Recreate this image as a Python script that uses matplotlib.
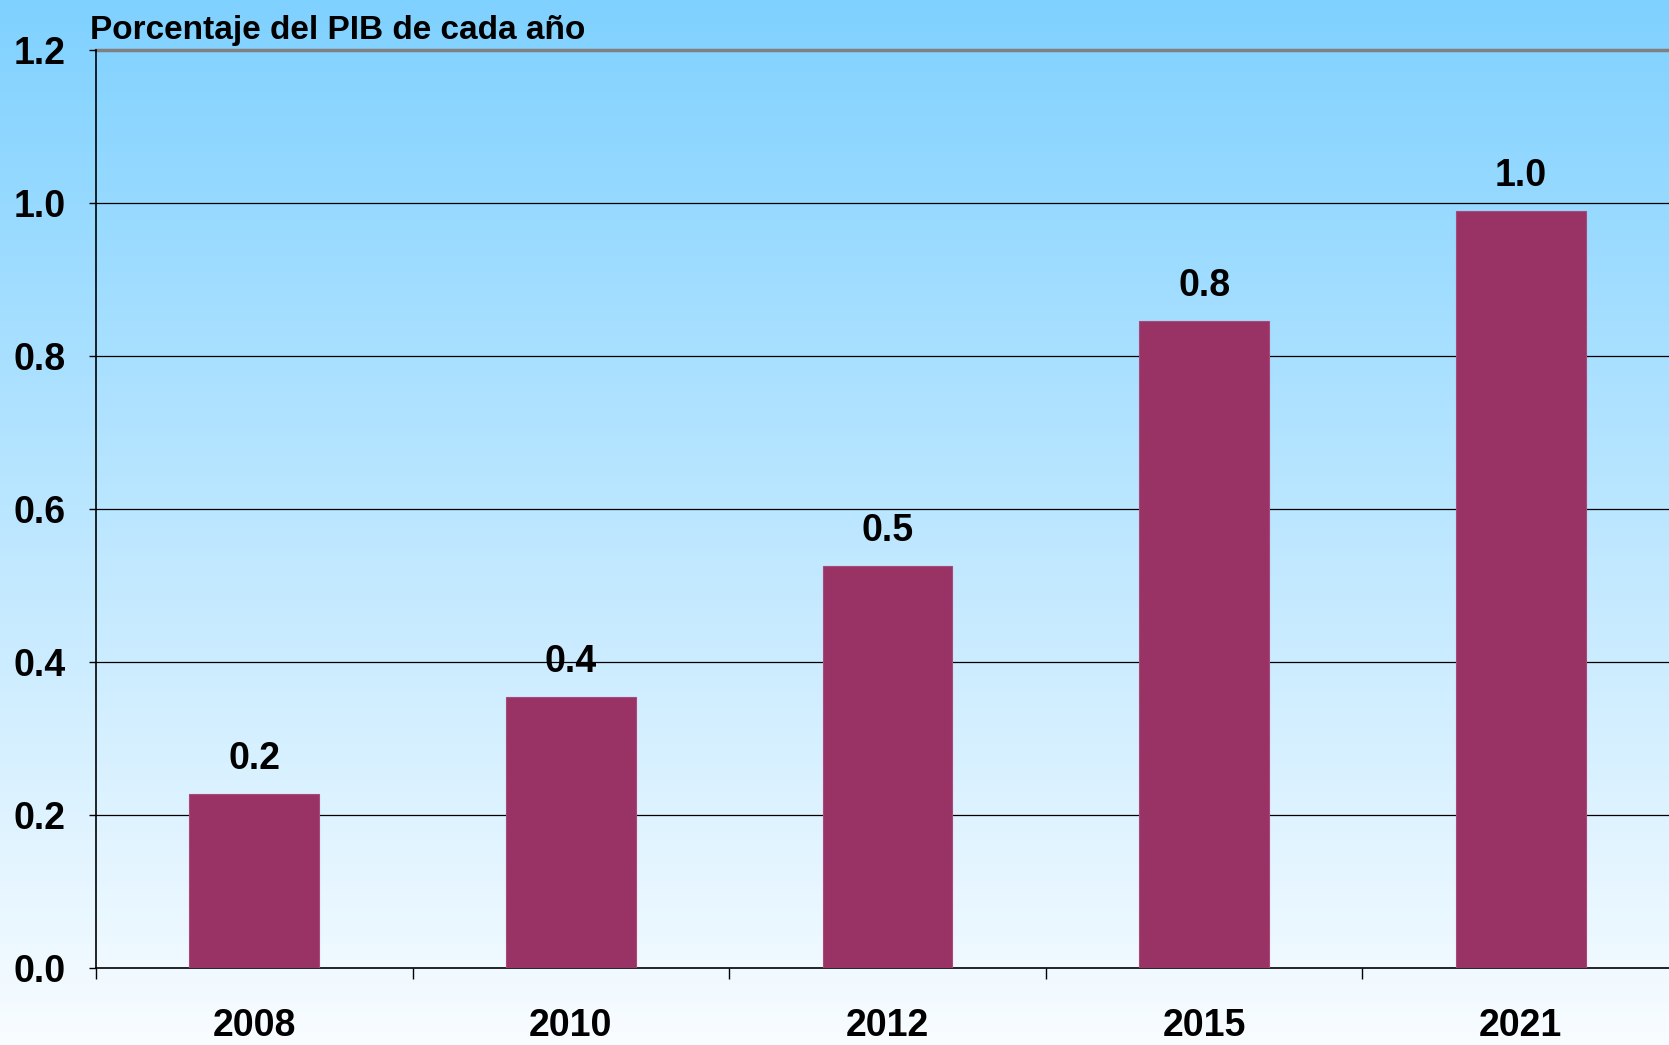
import matplotlib.pyplot as plt
import numpy as np

# data
years = ['2008', '2010', '2012', '2015', '2021']
pib_pct = [0.228, 0.355, 0.526, 0.846, 0.99]
labels = ['0.2', '0.4', '0.5', '0.8', '1.0']
yticks = [0.0, 0.2, 0.4, 0.6, 0.8, 1.0, 1.2]

plt.rcParams['font.family'] = ['Liberation Sans', 'DejaVu Sans']
plt.rcParams['font.weight'] = 'bold'

fig = plt.figure(figsize=(16.69, 10.45), dpi=100)

# gradient background across the whole figure
bg = fig.add_axes([0, 0, 1, 1], zorder=-1)
top_c = np.array([0.50, 0.82, 1.0])
bot_c = np.array([0.975, 0.99, 1.0])
t = np.linspace(0, 1, 256)[:, None]
grad = (top_c * (1 - t) + bot_c * t)[:, None, :]
bg.imshow(grad, aspect='auto', extent=[0, 1, 0, 1])
bg.axis('off')

ax = fig.add_axes([0.0575, 0.0737, 0.9485, 0.878])
ax.patch.set_alpha(0)

x = np.arange(len(years))
ax.bar(x, pib_pct, width=0.41, color='#993366', edgecolor='#a8497a', linewidth=0.8, zorder=3)
for xi, v, lab in zip(x, pib_pct, labels):
    ax.annotate(lab, (xi, v), xytext=(0, 12), textcoords='offset points',
                ha='center', va='bottom', fontsize=27, fontweight='bold')

ax.set_xlim(-0.5, 4.5)
ax.set_ylim(0, 1.2)
ax.set_yticks(yticks)
ax.set_yticklabels([f'{v:.1f}' for v in yticks], fontsize=27, fontweight='bold')
ax.set_xticks(x)
ax.set_xticklabels(years, fontsize=27, fontweight='bold')
ax.set_xticks(np.arange(-0.5, 5, 1), minor=True)
ax.tick_params(axis='x', which='major', length=0, pad=29)
ax.tick_params(axis='x', which='minor', length=8, width=1, direction='out')
ax.tick_params(axis='y', length=5, width=1, pad=17)

for v in yticks[1:-1]:
    ax.axhline(v, color='black', linewidth=0.9, zorder=1)
ax.axhline(1.2, color='#808080', linewidth=2.5, zorder=1, clip_on=False)

for s in ['top', 'right']:
    ax.spines[s].set_visible(False)
ax.spines['left'].set_linewidth(1.2)
ax.spines['bottom'].set_linewidth(1.2)

fig.text(90 / 1669, 1 - 39 / 1045, 'Porcentaje del PIB de cada año',
         fontsize=24, fontweight='bold', ha='left', va='baseline')

fig.savefig('out.png', dpi=100)
